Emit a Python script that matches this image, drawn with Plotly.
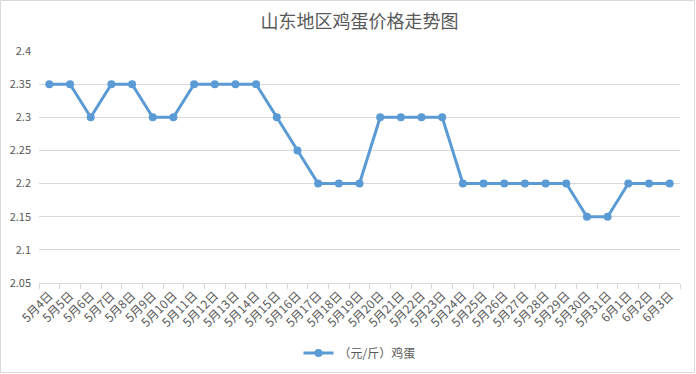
import plotly.graph_objects as go

dates = ["5月4日","5月5日","5月6日","5月7日","5月8日","5月9日","5月10日","5月11日","5月12日","5月13日",
         "5月14日","5月15日","5月16日","5月17日","5月18日","5月19日","5月20日","5月21日","5月22日","5月23日",
         "5月24日","5月25日","5月26日","5月27日","5月28日","5月29日","5月30日","5月31日","6月1日","6月2日","6月3日"]
prices = [2.35,2.35,2.30,2.35,2.35,2.30,2.30,2.35,2.35,2.35,
          2.35,2.30,2.25,2.20,2.20,2.20,2.30,2.30,2.30,2.30,
          2.20,2.20,2.20,2.20,2.20,2.20,2.15,2.15,2.20,2.20,2.20]
y_ticks = [2.05,2.1,2.15,2.2,2.25,2.3,2.35,2.4]
y_labels = ["2.05","2.1","2.15","2.2","2.25","2.3","2.35","2.4"]

W, H = 696, 374
L, R, T, B = 39, 16, 51, 91
pw, ph = W - L - R, H - T - B

fig = go.Figure()
fig.add_trace(go.Scatter(
    x=dates, y=prices, mode="lines+markers", name="（元/斤）鸡蛋",
    line=dict(color="#5B9BD5", width=3),
    marker=dict(color="#5B9BD5", size=8),
))

fig.update_layout(
    width=W, height=H,
    margin=dict(l=L, r=R, t=T, b=B, autoexpand=False),
    paper_bgcolor="white", plot_bgcolor="white",
    font=dict(family="Noto Sans CJK SC", color="#595959", size=11),
    title=dict(text="山东地区鸡蛋价格走势图", x=0.5, xanchor="center", xref="paper",
               y=1 - 22/H, yanchor="middle", yref="container",
               font=dict(size=18, color="#595959")),
    xaxis=dict(type="category", tickangle=-45, showgrid=False, showline=True, linecolor="#d9d9d9",
               ticks="outside", tickson="boundaries", ticklen=5, tickcolor="#d9d9d9",
               tickfont=dict(size=12, color="#595959"), range=[-0.5, len(dates) - 0.5],
               automargin=False),
    yaxis=dict(range=[2.05, 2.4], tickvals=y_ticks, ticktext=y_labels, showgrid=True,
               gridcolor="#d9d9d9", gridwidth=1, zeroline=False, showline=False,
               tickfont=dict(size=11, color="#595959"), ticks="", ticklabelstandoff=7,
               automargin=False),
    showlegend=True,
    legend=dict(orientation="h", x=0.5, xanchor="center", y=(283 - 353) / ph, yanchor="middle",
                font=dict(size=12, color="#595959")),
    shapes=[dict(type="rect", xref="paper", yref="paper",
                 x0=(0.5 - L) / pw, x1=(W - 1.5 - L) / pw,
                 y0=(283 - (H - 1.5)) / ph, y1=(283 - 0.5) / ph,
                 line=dict(color="#d9d9d9", width=1), fillcolor="rgba(0,0,0,0)", layer="below")],
)

fig.write_html("out.html", config={"displayModeBar": False},
               post_script="document.body.style.margin='0';document.body.style.overflow='hidden';")
